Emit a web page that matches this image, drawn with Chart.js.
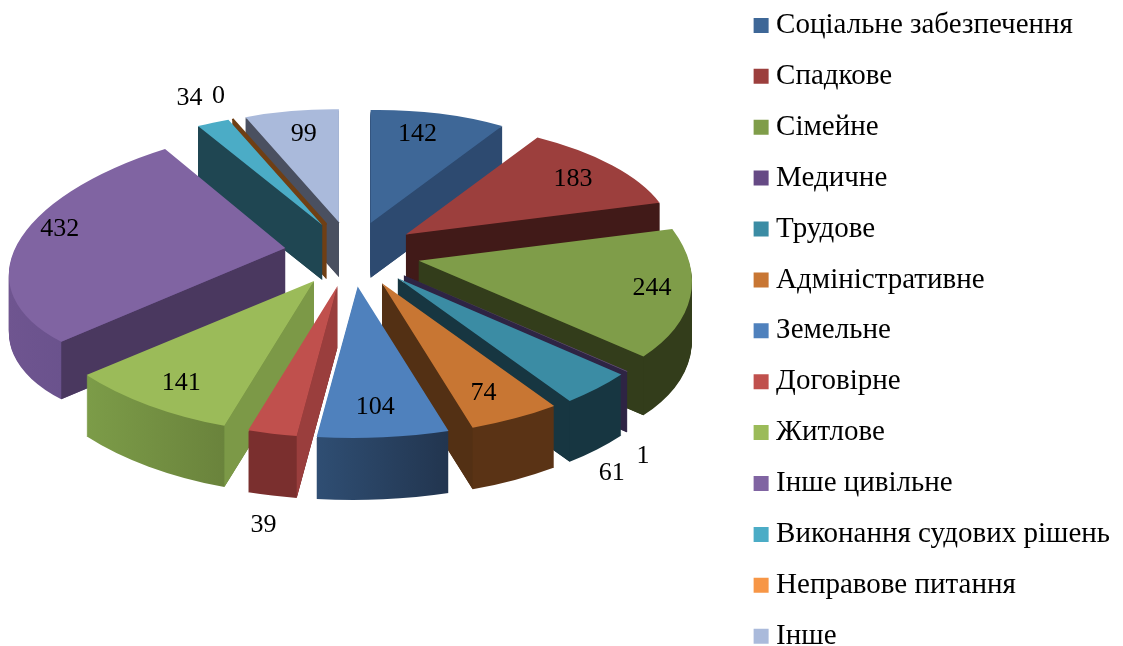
<!DOCTYPE html>
<html>
<head>
<meta charset="utf-8">
<style>
html,body{margin:0;padding:0;background:#fff;overflow:hidden;width:1123px;height:646px}
#c{position:absolute;left:0;top:-11px}
</style>
<script src="https://cdn.jsdelivr.net/npm/chart.js@4"></script>
</head>
<body>
<canvas id="c" width="1123" height="700"></canvas>
<script>
const categories = ['Соціальне забезпечення','Спадкове','Сімейне','Медичне','Трудове','Адміністративне','Земельне','Договірне','Житлове','Інше цивільне','Виконання судових рішень','Неправове питання','Інше'];
const values = [142,183,244,1,61,74,104,39,141,432,34,0,99];
const topColors = ['#3E6797','#9C3F3D','#7F9D49','#664A85','#3B8CA4','#C87633','#4F81BD','#C0504D','#9BBB59','#8064A2','#4BACC6','#F79646','#AABADB'];
const wallColors = ['#2D4A70','#411A18','#333D1B','#2E2444','#173641','#533014','#533014','#9A3E3D','#7C9947','#4A385F','#1F4652','#6F3F14','#4A5060'];
const rimLeft = ['#2D4A70','#411A18','#333D1B','#2E2444','#173641','#5A3315','#2F4E73','#7A2F2E','#7C9C48','#6F5590','#1F4652','#6F3F14','#4A5060'];
const rimRight = ['#2D4A70','#411A18','#333D1B','#2E2444','#173641','#5A3315','#22354F','#7A2F2E','#6A833C','#66508A','#1F4652','#6F3F14','#4A5060'];
const labelNudgeX = [-5,9,12,54,48,-10,-4,-19,7,-17,-49,-36,1];
const labelNudgeY = [-5,-1,2,102,104,-3,-6,115,-1,-3,-48,-47,-3];

// projection of the tilted pie plane
const view = {cx:352, cy:264, ax:272, ay:129.6, persp:0.147, explode:0.25, depth:58, labelR:1.05, wideBulge:0.98};
function project(X,Y){
  const w = 1/(1-view.persp*Y);
  return {x:view.cx+view.ax*X*w, y:view.cy+view.ay*Y*w, w};
}

function sliceGeometry(arc){
  const a1 = arc.startAngle, a2 = arc.endAngle, mid = (a1+a2)/2;
  const half = Math.max((a2-a1)/2, 10*Math.PI/180);
  const ex = view.explode*Math.cos(mid), ey = view.explode*Math.sin(mid);
  const apex = project(ex,ey);
  const b1 = mid-half, b2 = mid+half;
  const p1 = project(Math.cos(b1), Math.sin(b1));
  const p2 = project(Math.cos(b2), Math.sin(b2));
  const c1=Math.cos(b1), s1=Math.sin(b1), c2=Math.cos(b2), s2=Math.sin(b2);
  const det = c1*s2-c2*s1;
  const dx1=p1.x-view.cx, dy1=p1.y-view.cy, dx2=p2.x-view.cx, dy2=p2.y-view.cy;
  let E1 = {x:(dx1*s2-dx2*s1)/det, y:(dy1*s2-dy2*s1)/det};
  let E2 = {x:(dx2*c1-dx1*c2)/det, y:(dy2*c1-dy1*c2)/det};
  if(a2-a1>Math.PI/2){
    // a sector this wide bulges less than one affine map gives: flatten along its bisector
    const cm=Math.cos(mid), sm=Math.sin(mid), k=view.wideBulge;
    const Im={x:cm*E1.x+sm*E2.x, y:cm*E1.y+sm*E2.y};
    const In={x:-sm*E1.x+cm*E2.x, y:-sm*E1.y+cm*E2.y};
    E1={x:cm*k*Im.x-sm*In.x, y:cm*k*Im.y-sm*In.y};
    E2={x:sm*k*Im.x+cm*In.x, y:sm*k*Im.y+cm*In.y};
  }
  const rim = a => ({x:apex.x+E1.x*Math.cos(a)+E2.x*Math.sin(a), y:apex.y+E1.y*Math.cos(a)+E2.y*Math.sin(a)});
  const midW = project(ex+Math.cos(mid)*.6, ey+Math.sin(mid)*.6).w;
  return {a1,a2,mid,apex,E1,E2,rim,depth:view.depth*Math.sqrt(midW)};
}
function applyAffine(ctx,arc,g,dy){
  const R = arc.outerRadius;
  const m11=g.E1.x/R, m12=g.E1.y/R, m21=g.E2.x/R, m22=g.E2.y/R;
  ctx.setTransform(m11,m12,m21,m22, g.apex.x-m11*arc.x-m21*arc.y, g.apex.y+dy-m12*arc.x-m22*arc.y);
}
function drawWith(ctx,arc,fill){
  const clone = Object.create(arc);
  clone.options = Object.assign({}, arc.options, {backgroundColor:fill, borderWidth:0});
  clone.draw(ctx);
}
const pie3d = {
  id:'pie3d',
  beforeDatasetsDraw(chart){
    const ctx = chart.ctx;
    const arcs = chart.getDatasetMeta(0).data;
    const order = arcs.map((arc,i)=>({arc,i,g:sliceGeometry(arc)}));
    order.sort((p,q)=>Math.sin(p.g.mid)-Math.sin(q.g.mid));
    ctx.save();
    for(const {arc,i,g} of order){
      const d = g.depth;
      const R = arc.outerRadius;
      // outer rim: sweep the sector downward
      if(arc.endAngle>arc.startAngle){
        const cA=Math.cos(g.a1), cB=Math.cos(g.a2);
        const grad = ctx.createLinearGradient(arc.x+R*Math.min(cA,cB,g.a2-g.a1>Math.PI/2?-1:1),0,arc.x+R*Math.max(cA,cB),0);
        grad.addColorStop(0,rimLeft[i]); grad.addColorStop(1,rimRight[i]);
        for(let s=d;s>=1;s-=1){
          ctx.save();
          applyAffine(ctx,arc,g,s);
          drawWith(ctx,arc,grad);
          ctx.restore();
        }
      }
      // radial walls
      ctx.setTransform(1,0,0,1,0,0);
      const r1=g.rim(g.a1), r2=g.rim(g.a2);
      const degenerate = values[i]===0;
      const wall = (p,other)=>{
        const ux=p.x-g.apex.x, uy=p.y-g.apex.y;
        const side=ux*(other.y-g.apex.y)-uy*(other.x-g.apex.x);
        if(!degenerate && side*ux>=0) return;
        ctx.beginPath();
        ctx.moveTo(g.apex.x,g.apex.y);
        ctx.lineTo(p.x,p.y);
        ctx.lineTo(p.x,p.y+d);
        ctx.lineTo(g.apex.x,g.apex.y+d);
        ctx.closePath();
        ctx.fillStyle=wallColors[i];
        ctx.fill();
      };
      wall(r1,r2); wall(r2,r1);
      if(degenerate){
        ctx.beginPath();ctx.moveTo(g.apex.x,g.apex.y);ctx.lineTo(r1.x,r1.y);
        ctx.strokeStyle=wallColors[i];ctx.lineWidth=2;ctx.stroke();
      }
      // top surface
      ctx.save();
      applyAffine(ctx,arc,g,0);
      arc.draw(ctx);
      ctx.restore();
      ctx.setTransform(1,0,0,1,0,0);
    }
    ctx.restore();
    // value labels
    ctx.save();
    ctx.font = '26px "Liberation Serif"';
    ctx.fillStyle='#000';
    ctx.textAlign='center';
    ctx.textBaseline='middle';
    arcs.forEach((arc,i)=>{
      const mid=(arc.startAngle+arc.endAngle)/2;
      const p=project(view.labelR*Math.cos(mid),view.labelR*Math.sin(mid));
      ctx.fillText(String(values[i]),p.x+labelNudgeX[i],p.y+labelNudgeY[i]);
    });
    ctx.restore();
    return false;
  }
};
new Chart(document.getElementById('c'),{
  type:'pie',
  data:{labels:categories,datasets:[{data:values,backgroundColor:topColors,borderWidth:0}]},
  plugins:[pie3d],
  options:{
    responsive:false,
    animation:false,
    layout:{padding:{right:3}},
    plugins:{
      tooltip:{enabled:false},
      legend:{
        position:'right',
        align:'start',
        labels:{
          color:'#000',
          font:{family:'"Liberation Serif"',size:29},
          usePointStyle:true,
          pointStyle:'rect',
          boxWidth:1,
          boxHeight:15,
          padding:21.9
        }
      }
    }
  }
});
</script>
</body>
</html>
